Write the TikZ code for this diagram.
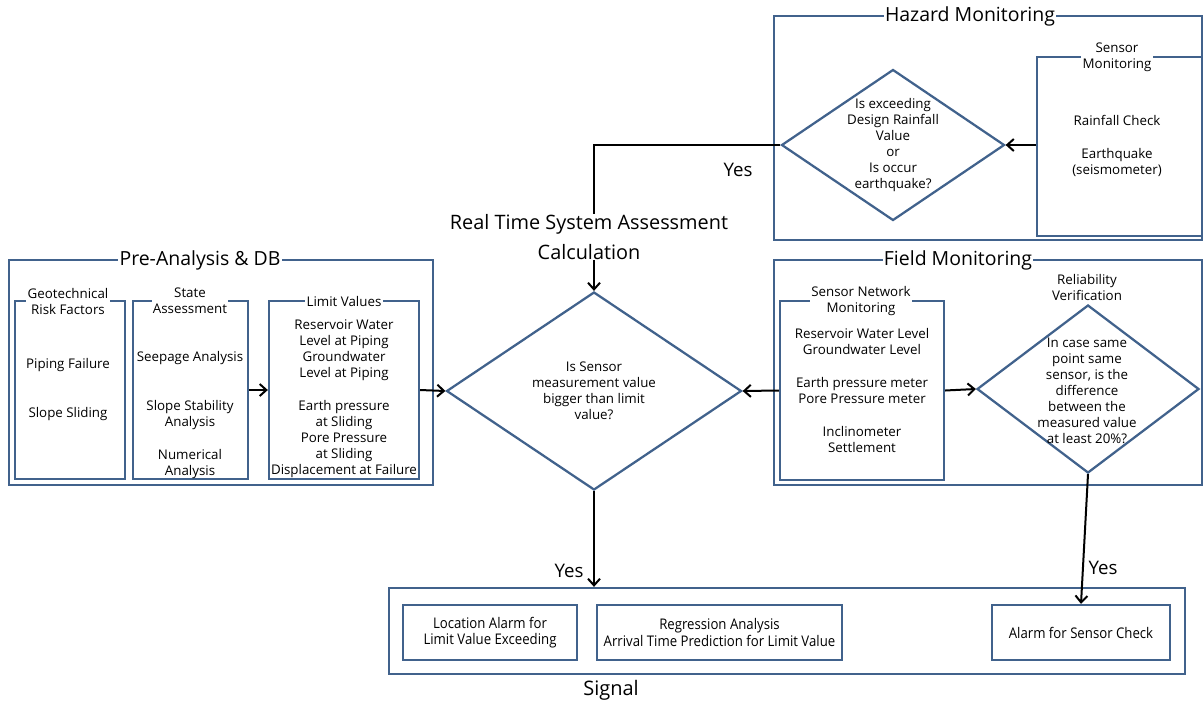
\documentclass[tikz,border=0pt]{standalone}
\usepackage{fontspec}
\setmainfont{Open Sans}
\newfontfamily\narrowfont[FakeStretch=0.9]{Open Sans}
\usetikzlibrary{shapes.geometric,arrows.meta,fit}
\definecolor{boxblue}{RGB}{65,98,140}

\begin{document}
\begin{tikzpicture}[x=0.75pt,y=-0.75pt,
  frame/.style={draw=boxblue,line width=1.7pt,inner sep=0pt},
  grouptitle/.style={fill=white,inner sep=1pt,font=\fontsize{14.6}{16}\selectfont},
  boxtitle/.style={fill=white,inner sep=1pt,align=center,font=\fontsize{10}{12}\selectfont},
  boxtext/.style={align=center,inner sep=0pt,font=\fontsize{10}{12}\selectfont},
  sigtext/.style={align=center,inner sep=0pt,font=\narrowfont\fontsize{11}{12.5}\selectfont},
  decision/.style={diamond,draw=boxblue,line width=1.7pt,inner sep=0pt},
  arr/.style={-{Straight Barb[length=5pt,width=9pt]},line width=1.5pt,black},
  yestext/.style={font=\fontsize{14}{16}\selectfont}]
  \useasboundingbox (0,0) rectangle (1203,701);

  % Hazard monitoring
  \node[frame,fit={(774,16) (1202,240)}] (hazard) {};
  \node[grouptitle] (hazardT) at (970,16) {Hazard Monitoring};
  \node[frame,fit={(1037,57) (1202,236)}] (senMon) {};
  \node[boxtitle] (senMonT) at (1117,57) {Sensor\\Monitoring};
  \node[boxtext] (senMonC) at (1117,146) {Rainfall Check\\[12.75pt]Earthquake\\(seismometer)};
  \node[decision,minimum width=167.25pt,minimum height=113.25pt] (hazD) at (893,145) {};
  \node[boxtext] (hazDT) at (hazD) {Is exceeding\\Design Rainfall\\Value\\or\\Is occur\\earthquake?};
  \draw[arr] (senMon.west |- hazD.east) -- (hazD.east);

  % Pre-analysis
  \node[frame,fit={(9,260) (433,485)}] (pre) {};
  \node[grouptitle] (preT) at (200,260) {Pre-Analysis \& DB};
  \node[frame,fit={(15,301) (125,479)}] (geo) {};
  \node[boxtitle] (geoT) at (68,301) {Geotechnical\\Risk Factors};
  \node[boxtext] (geoC) at (68,390) {Piping Failure\\[24.75pt]Slope Sliding};
  \node[frame,fit={(133,301) (248,479)}] (state) {};
  \node[boxtitle] (stateT) at (190,301) {State\\Assessment};
  \node[boxtext] (stateC) at (190,415) {Seepage Analysis\\[24.75pt]Slope Stability\\Analysis\\[12.75pt]Numerical\\Analysis};
  \node[frame,fit={(269,301) (419,479)}] (limit) {};
  \node[boxtitle] (limitT) at (344,301) {Limit Values};
  \node[boxtext] (limitC) at (344,398.5) {Reservoir Water\\Level at Piping\\Groundwater\\Level at Piping\\[12.75pt]Earth pressure\\at Sliding\\Pore Pressure\\at Sliding\\Displacement at Failure};
  \draw[arr] (state.east) -- (limit.west);

  % Real time assessment
  \node[decision,minimum width=221.25pt,minimum height=148.5pt] (mainD) at (594,391) {};
  \node[boxtext] (mainDT) at (mainD) {Is Sensor\\measurement value\\bigger than limit\\value?};
  \draw[arr] (hazD.west) -| (mainD.north);
  \node[fill=white,inner sep=0pt,align=center,font=\fontsize{14.9}{22.5}\selectfont] (realT) at (589,237) {Real Time System Assessment\\Calculation};
  \node[yestext] (yes1) at (738,170) {Yes};
  \draw[arr] (limit.east) -- (mainD.west);

  % Field monitoring
  \node[frame,fit={(774,260) (1202,485)}] (field) {};
  \node[grouptitle] (fieldT) at (958,260) {Field Monitoring};
  \node[frame,fit={(780,301) (944,480)}] (senNet) {};
  \node[boxtitle] (senNetT) at (861,301) {Sensor Network\\Monitoring};
  \node[boxtext] (senNetC) at (862,390.5) {Reservoir Water Level\\Groundwater Level\\[12.75pt]Earth pressure meter\\Pore Pressure meter\\[12.75pt]Inclinometer\\Settlement};
  \node[boxtext] (relT) at (1087,287) {Reliability\\Verification};
  \node[decision,minimum width=166.5pt,minimum height=126pt] (relD) at (1088,389) {};
  \node[boxtext] (relDT) at (1087,390.5) {In case same\\point same\\sensor, is the\\difference\\between the\\measured value\\at least 20\%?};
  \draw[arr] (senNet.west) -- (mainD.east);
  \draw[arr] (senNet.east) -- (relD.west);

  % Signal
  \node[frame,fit={(389,588) (1185,674)}] (signal) {};
  \node[font=\fontsize{15}{17}\selectfont] (signalT) at (611,690) {Signal};
  \node[frame,fit={(403,605) (577,660)}] (locAlarm) {};
  \node[sigtext] at (locAlarm) {Location Alarm for\\Limit Value Exceeding};
  \node[frame,fit={(597,605) (842,660)}] (regress) {};
  \node[sigtext] at (regress) {Regression Analysis\\Arrival Time Prediction for Limit Value};
  \node[frame,fit={(992,605) (1170,660)}] (sensAlarm) {};
  \node[sigtext] at (sensAlarm) {Alarm for Sensor Check};
  \draw[arr] (mainD.south) -- (mainD.south |- signal.north);
  \node[yestext] (yes2) at (569,571) {Yes};
  \draw[arr] (relD.south) -- (sensAlarm.north);
  \node[yestext] (yes3) at (1103,568) {Yes};
\end{tikzpicture}
\end{document}
